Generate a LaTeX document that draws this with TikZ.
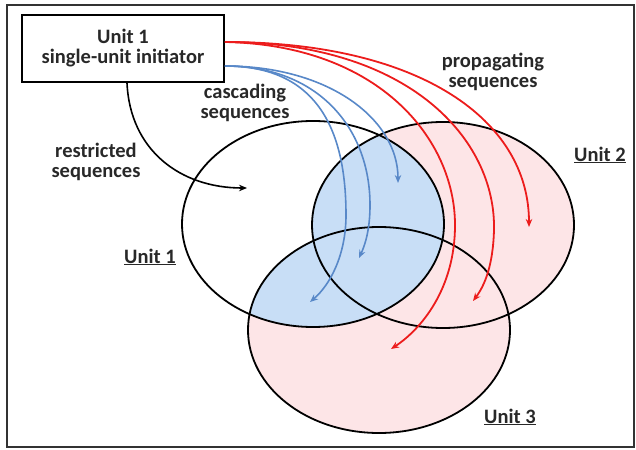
\documentclass[tikz,border=0pt]{standalone}
\usepackage{fontspec}
\setmainfont{Carlito}
\usepackage{xcolor}
\usetikzlibrary{
	arrows.meta,
	positioning
}
\definecolor{SeqRed}{RGB}{236,28,28}
\definecolor{SeqBlue}{RGB}{88,136,200}
\definecolor{AreaPink}{RGB}{253,229,231}
\definecolor{AreaBlue}{RGB}{200,222,246}
\definecolor{TextGray}{RGB}{40,40,40}
\tikzset{
	seqtext/.style={align=center,text=TextGray,font=\fontsize{20.5}{20}\selectfont\bfseries},
	unitring/.style={x radius=131,y radius=103}
}

\begin{document}
\begin{tikzpicture}[x=1pt,y=-1pt,>={Stealth[length=8pt,width=6.5pt]}]
		\useasboundingbox (0,0) rectangle (636,449);
		\draw[line width=1.8pt,black!80] (7,5) rectangle (634,447);
		\coordinate (Ua) at (313,224);
		\coordinate (Ub) at (443,225);
		\coordinate (Uc) at (379,330);
		% shaded areas
		\fill[AreaPink] (Ub) ellipse[unitring];
		\fill[AreaPink] (Uc) ellipse[unitring];
		\begin{scope}
			\clip (Ua) ellipse[unitring];
			\fill[AreaBlue] (Ub) ellipse[unitring];
			\fill[AreaBlue] (Uc) ellipse[unitring];
		\end{scope}
		\draw[line width=1.8pt] (Ua) ellipse[unitring];
		\draw[line width=1.8pt] (Ub) ellipse[unitring];
		\draw[line width=1.8pt] (Uc) ellipse[unitring];
		% initiator box
		\node[draw,line width=1.8pt,minimum width=202pt,minimum height=67pt,seqtext] (initiator) at (123,48.5) {Unit 1\\single-unit initiator};
		\coordinate (Rs) at ([yshift=6.5pt]initiator.east);
		\coordinate (Bs) at ([yshift=-17.5pt]initiator.east);
		\coordinate (Ks) at ([xshift=4pt]initiator.south);
		\coordinate (Ke) at (247,188);
		\coordinate (Ra) at (391,349);
		\coordinate (Rb) at (473,301);
		\coordinate (Rc) at (529,227);
		\coordinate (Ba) at (310,302);
		\coordinate (Bb) at (359,258);
		\coordinate (Bc) at (398,183);
		% sequences
		\draw[->,line width=1.6pt] (Ks) .. controls (130,150) and (180,188) .. (Ke);
		\draw[->,line width=1.8pt,SeqRed] (Rs) .. controls (380,45) and (455,140) .. (455,225) .. controls (455,290) and (420,330) .. (Ra);
		\draw[->,line width=1.8pt,SeqRed] (Rs) .. controls (410,42) and (496,140) .. (494,230) .. controls (493,265) and (485,285) .. (Rb);
		\draw[->,line width=1.8pt,SeqRed] (Rs) .. controls (420,42) and (529,120) .. (Rc);
		\draw[->,line width=1.6pt,SeqBlue] (Bs) .. controls (310,66) and (346,120) .. (346,215) .. controls (346,255) and (330,285) .. (Ba);
		\draw[->,line width=1.6pt,SeqBlue] (Bs) .. controls (320,66) and (370,130) .. (370,205) .. controls (370,230) and (365,245) .. (Bb);
		\draw[->,line width=1.6pt,SeqBlue] (Bs) .. controls (330,66) and (398,120) .. (Bc);
		% labels
		\node[seqtext] (cascade) at (245,103) {cascading\\sequences};
		\node[seqtext] (restrict) at (96,162) {restricted\\sequences};
		\node[seqtext] (propagate) at (493,72) {propagating\\sequences};
		\node[seqtext] (unita) at (150,257) {\underline{Unit 1}};
		\node[seqtext] (unitb) at (600,155) {\underline{Unit 2}};
		\node[seqtext] (unitc) at (510,417) {\underline{Unit 3}};
	\end{tikzpicture}
\end{document}
